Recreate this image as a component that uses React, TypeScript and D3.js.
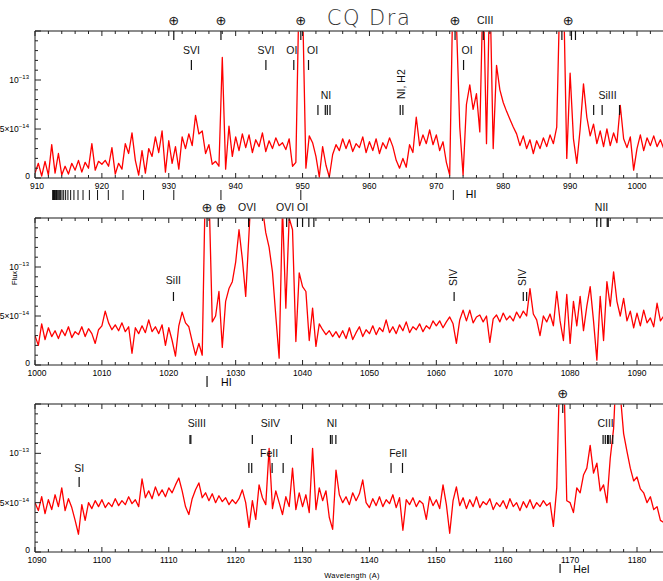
import * as d3 from "d3";

// flux samples, units of 1e-14 erg/s/cm2/A, every 0.5 A
const fluxStep = 0.5;

const flux1Start = 910;
const flux1 = [
  0.5, 1.5, 0.2, 1.7, 0.3, 3.4, 0.5, 2.5, 0.3, 1.2, 0.4, 1.5, 0.8, 1.8, 0.6, 1.6, 1.0, 3.5, 0.8, 1.7,
  1.4, 1.8, 1.2, 3.1, 0.4, 1.5, 0.9, 3.5, 2.5, 4.6, 1.8, 0.3, 2.8, 0.5, 3.0, 2.2, 4.2, 2.6, 4.8, 0.6,
  3.8, 1.5, 3.2, 0.9, 4.2, 3.0, 4.5, 3.3, 6.4, 4.5, 4.8, 2.5, 3.4, 1.4, 1.7, 1.2, 12.3, 0.9, 5.3, 2.2,
  4.2, 2.8, 4.5, 3.1, 4.4, 2.6, 3.9, 3.2, 4.6, 2.7, 3.8, 3.0, 4.1, 3.3, 3.6, 2.9, 4.0, 1.2, 1.6, 20,
  18, 1.0, 4.3, 3.6, 2.2, 0.1, 3.2, 1.3, 0.1, 2.4, 3.4, 2.8, 4.0, 3.0, 3.9, 2.7, 3.5, 3.1, 4.2, 2.6,
  3.7, 2.8, 4.0, 2.5, 3.6, 3.0, 4.1, 3.2, 1.8, 1.0, 2.0, 1.1, 3.4, 2.6, 6.2, 3.3, 4.4, 3.5, 4.9, 3.4,
  4.4, 2.8, 3.7, 1.6, 0.3, 20, 16, 5.2, 0.3, 7.5, 9.5, 7.0, 8.6, 4.7, 20, 3.5, 20, 3.0, 11.5, 9.0,
  7.7, 6.8, 6.0, 5.2, 4.5, 3.3, 4.3, 3.0, 3.9, 2.5, 3.8, 3.0, 4.1, 3.2, 4.4, 3.5, 5.2, 20, 20, 2.0,
  10.7, 4.0, 1.5, 5.0, 9.6, 6.2, 4.3, 5.5, 3.5, 4.8, 3.2, 5.0, 3.3, 4.6, 3.6, 7.4, 4.0, 3.1, 4.2, 0.8,
  3.0, 4.4, 2.8, 4.1, 3.3, 4.3, 3.2, 3.9, 3.0,
];

const flux2Start = 1000;
const flux2 = [
  3.0, 2.0, 4.2, 2.6, 3.8, 2.9, 3.5, 2.7, 3.6, 3.0, 3.9, 2.8, 3.4, 3.1, 3.9, 2.9, 3.7, 3.2, 2.2, 3.6,
  4.0, 5.5, 4.3, 3.6, 4.1, 3.5, 4.3, 3.4, 3.9, 1.2, 3.8, 3.2, 4.0, 3.3, 4.6, 3.4, 3.9, 3.2, 4.1, 2.0,
  3.8, 2.5, 0.9, 4.0, 5.4, 4.3, 3.9, 2.4, 1.0, 2.2, 1.0, 20, 18, 4.4, 5.0, 7.5, 1.8, 6.5, 7.8, 8.5,
  10.5, 13.8, 10.8, 7.0, 13.5, 20, 20, 20, 16, 13.5, 12, 9.5, 5.0, 0.7, 16, 5.8, 15, 13.8, 2.4, 9.4,
  8.0, 7.5, 2.5, 5.8, 1.9, 4.2, 3.6, 3.1, 3.5, 2.9, 3.4, 2.8, 3.5, 2.7, 3.8, 2.6, 3.3, 3.9, 2.9, 3.6,
  3.2, 4.0, 3.1, 3.8, 3.4, 4.6, 3.3, 3.9, 3.2, 4.1, 3.5, 4.4, 3.3, 3.9, 3.6, 4.2, 3.4, 4.0, 3.7, 4.5,
  4.0, 4.5, 3.8, 4.4, 4.9, 4.2, 2.2, 4.6, 5.6, 4.5, 5.6, 4.3, 4.9, 5.1, 4.4, 5.0, 2.3, 4.7, 5.1, 4.4,
  5.3, 4.6, 5.0, 4.5, 5.4, 4.8, 5.5, 5.0, 7.8, 5.2, 4.6, 3.0, 5.0, 4.4, 5.2, 4.0, 7.5, 4.5, 2.5, 7.2,
  2.2, 6.5, 4.0, 7.0, 3.5, 6.0, 8.0, 4.5, 0.5, 7.0, 2.5, 8.5, 6.0, 9.5, 6.5, 5.0, 6.8, 4.5, 5.5, 3.8,
  5.3, 4.0, 5.6, 4.3, 4.8, 3.9, 6.3, 4.5, 5.0,
];

const flux3Start = 1090;
const flux3 = [
  5.0, 4.2, 5.6, 3.9, 5.3, 4.3, 5.8, 4.6, 6.5, 4.2, 5.4, 4.5, 3.2, 1.8, 4.8, 3.2, 5.0, 4.4, 5.2, 4.6,
  5.3, 4.5, 5.0, 4.6, 5.4, 4.7, 5.2, 4.8, 5.6, 4.9, 5.3, 4.6, 7.4, 5.5, 6.2, 5.4, 6.6, 5.7, 6.3, 5.6,
  6.5, 6.0, 6.8, 7.5, 6.2, 4.6, 3.8, 5.4, 6.3, 7.0, 5.5, 6.0, 5.2, 5.9, 5.0, 5.7, 5.1, 5.5, 4.8, 5.3,
  4.9, 5.4, 6.3, 5.0, 2.5, 5.2, 3.3, 6.8, 5.5, 4.8, 10.5, 4.4, 6.2, 5.0, 3.8, 5.6, 4.6, 8.5, 4.3, 6.0,
  4.6, 5.8, 4.0, 10.5, 4.3, 6.5, 5.2, 6.2, 3.5, 2.3, 8.3, 5.8, 5.0, 5.6, 4.8, 6.0, 5.2, 5.9, 7.3, 5.0,
  4.5, 5.4, 4.7, 5.6, 4.6, 5.3, 4.9, 5.8, 4.5, 5.5, 2.2, 5.3, 4.8, 5.5, 4.6, 5.2, 4.9, 3.3, 5.6, 4.7,
  5.3, 4.4, 6.8, 4.8, 1.9, 5.2, 6.6, 4.7, 5.5, 4.4, 5.3, 4.6, 5.6, 4.5, 5.1, 4.8, 5.4, 4.3, 5.0, 4.6,
  5.2, 4.4, 5.4, 4.6, 5.0, 4.2, 5.1, 4.5, 5.3, 4.4, 5.0, 4.6, 5.2, 4.7, 5.0, 2.6, 6.5, 20, 20, 5.2,
  5.0, 4.0, 6.5, 6.0, 7.8, 8.5, 10.8, 8.0, 9.0, 6.2, 6.8, 5.0, 9.5, 12.5, 20, 16, 12.0, 10.2, 8.5, 7.2,
  7.6, 6.4, 6.0, 5.0, 5.6, 4.3, 4.6, 3.2, 3.0,
];

// line identifications
const lyman = [
  912.65, 912.71, 912.77, 912.84, 912.92, 913.0, 913.1, 913.21, 913.33, 913.48, 913.64, 913.83,
  914.04, 914.29, 914.58, 914.92, 915.33, 915.82, 916.43, 917.18, 918.13, 919.35, 920.96, 923.15,
  926.23, 930.75, 937.8, 949.74, 972.54,
];

const topTicks1 = [930.75, 937.8, 949.74, 972.8, 977.02, 988.77, 990.2, 990.8];
const topLabels1 = [
  { text: "⊕", lam: 930.75 }, { text: "⊕", lam: 937.8 }, { text: "⊕", lam: 949.74 },
  { text: "⊕", lam: 972.8 }, { text: "CIII", lam: 977.3 }, { text: "⊕", lam: 989.7 },
];
const ids1 = [
  { text: "SVI", lam: 933.38, ticks: [933.38], row: "upper" },
  { text: "SVI", lam: 944.52, ticks: [944.52], row: "upper" },
  { text: "OI", lam: 948.4, ticks: [948.69], row: "upper" },
  { text: "OI", lam: 951.5, ticks: [950.89], row: "upper" },
  { text: "NI", lam: 953.5, ticks: [952.3, 953.4, 953.7, 954.1], row: "lower" },
  { text: "NI, H2", lam: 964.8, ticks: [964.6, 965.0], row: "lower", rotate: true },
  { text: "OI", lam: 974.6, ticks: [974.07], row: "upper" },
  { text: "SiIII", lam: 995.6, ticks: [993.52, 994.79, 997.39], row: "lower" },
];

const topTicks2 = [1025.72, 1027.4, 1031.93, 1037.62, 1039.23, 1040.0, 1040.94, 1041.69, 1083.99, 1084.58, 1085.55, 1085.7];
const topLabels2 = [
  { text: "⊕", lam: 1025.72 }, { text: "⊕", lam: 1027.8 }, { text: "OVI", lam: 1031.7 },
  { text: "OVI", lam: 1037.4 }, { text: "OI", lam: 1040.0 }, { text: "NII", lam: 1084.7 },
];
const ids2 = [
  { text: "SiII", lam: 1020.7, ticks: [1020.7], row: "lower" },
  { text: "SIV", lam: 1062.6, ticks: [1062.66], row: "lower", rotate: true },
  { text: "SIV", lam: 1072.9, ticks: [1073.0, 1073.5], row: "lower", rotate: true },
];

const topTicks3 = [1168.9];
const topLabels3 = [{ text: "⊕", lam: 1168.9 }];
const ids3 = [
  { text: "SI", lam: 1096.6, ticks: [1096.6], row: "lower" },
  { text: "SiIII", lam: 1114.2, ticks: [1113.17, 1113.3], row: "upper" },
  { text: "SiIV", lam: 1125.2, ticks: [1122.49, 1128.33], row: "upper" },
  { text: "NI", lam: 1134.4, ticks: [1134.17, 1134.42, 1134.98], row: "upper" },
  { text: "CIII", lam: 1175.3, ticks: [1174.93, 1175.26, 1175.59, 1175.71, 1175.99, 1176.37], row: "upper" },
  { text: "FeII", lam: 1125.0, ticks: [1121.97, 1122.4, 1125.45, 1127.1], row: "middle" },
  { text: "FeII", lam: 1144.3, ticks: [1143.23, 1144.94], row: "middle" },
];

const FONT = "'Liberation Sans', Arial, sans-serif";
const LABEL_FONT = "'Liberation Sans Narrow', 'Liberation Sans', Arial, sans-serif";
const LEFT = 35;
const RIGHT = 663;
const PX_PER_90A = 602;

const rowsByPanel = [
  { upper: [19, 29, 39], lower: [64, 74, 84] },
  { lower: [62, 74, 83] },
  { upper: [19, 31, 40], middle: [49, 59, 69], lower: [64, 73, 83] },
];

const panels = [
  { start: flux1Start, flux: flux1, top: 31, bottom: 178, topTicks: topTicks1, topLabels: topLabels1, ids: ids1 },
  { start: flux2Start, flux: flux2, top: 218, bottom: 365, topTicks: topTicks2, topLabels: topLabels2, ids: ids2 },
  { start: flux3Start, flux: flux3, top: 404, bottom: 552, topTicks: topTicks3, topLabels: topLabels3, ids: ids3 },
];

function Panel({ p, idx }: { p: any; idx: number }) {
  const lamMax = p.start + ((RIGHT - LEFT) * 90) / PX_PER_90A;
  const x = d3.scaleLinear().domain([p.start, p.start + 90]).range([LEFT, LEFT + PX_PER_90A]);
  const y = d3.scaleLinear().domain([0, 1.5e-13]).range([p.bottom, p.top]);
  const pts: [number, number][] = p.flux.map((v: number, i: number) => [p.start + i * fluxStep, v * 1e-14]);
  const line = d3.line<[number, number]>().x((d) => x(d[0])).y((d) => y(d[1]));
  const xTicks = d3.range(p.start, lamMax, 2);
  const yTicks = d3.range(0, 16).map((k) => k * 1e-14);
  const rows: any = rowsByPanel[idx];
  const clipId = `clip${idx}`;

  return (
    <g>
      <defs>
        <clipPath id={clipId}>
          <rect x={LEFT} y={p.top} width={RIGHT - LEFT} height={p.bottom - p.top} />
        </clipPath>
      </defs>
      <path d={line(pts) || ""} fill="none" stroke="#ff0000" strokeWidth={1.3} strokeLinejoin="round" clipPath={`url(#${clipId})`} />
      {/* frame */}
      <line x1={LEFT} x2={RIGHT} y1={p.top} y2={p.top} stroke="#666" strokeWidth={1.6} />
      <line x1={LEFT} x2={RIGHT} y1={p.bottom} y2={p.bottom} stroke="#222" strokeWidth={1} />
      <line x1={LEFT} x2={LEFT} y1={p.top} y2={p.bottom} stroke="#222" strokeWidth={1} />
      {xTicks.map((t: number) => {
        const major = Math.abs(t % 10) < 1e-6;
        const len = major ? 5 : 3;
        return (
          <g key={t}>
            <line x1={x(t)} x2={x(t)} y1={p.bottom} y2={p.bottom - len} stroke="#222" />
            <line x1={x(t)} x2={x(t)} y1={p.top} y2={p.top + len} stroke="#222" />
            {major && (
              <text x={x(t) + (t === p.start ? 2 : 0)} y={p.bottom + 10.5} fontSize={8.5} textAnchor="middle" fontFamily={FONT}>
                {t}
              </text>
            )}
          </g>
        );
      })}
      {yTicks.map((t: number, k: number) => (
        <line key={k} x1={LEFT} x2={LEFT + (k % 5 === 0 ? 6 : 3)} y1={y(t)} y2={y(t)} stroke="#222" />
      ))}
      <text x={30} y={y(0) + 1} fontSize={8.5} textAnchor="end" fontFamily={FONT}>0</text>
      <text x={29} y={y(5e-14) + 3} fontSize={8.5} textAnchor="end" fontFamily={FONT}>
        5×10<tspan fontSize={6} dy={-4}>−14</tspan>
      </text>
      <text x={29} y={y(1e-13) + 3} fontSize={8.5} textAnchor="end" fontFamily={FONT}>
        10<tspan fontSize={6} dy={-4}>−13</tspan>
      </text>
      {/* ticks hanging from the top frame */}
      {p.topTicks.map((t: number, i: number) => (
        <line key={i} x1={x(t)} x2={x(t)} y1={p.top} y2={p.top + 9} stroke="#111" strokeWidth={1.2} />
      ))}
      {p.topLabels.map((l: any, i: number) => (
        <text
          key={i}
          x={x(l.lam)}
          y={p.top - (l.text === "⊕" ? 6 : 7)}
          fontSize={l.text === "⊕" ? 13 : 10.5}
          textAnchor="middle"
          fontFamily={l.text === "⊕" ? "'DejaVu Sans', sans-serif" : LABEL_FONT}
          fill="#111"
        >
          {l.text}
        </text>
      ))}
      {p.ids.map((l: any, i: number) => {
        const [ty, t0, t1] = rows[l.row];
        return (
          <g key={i}>
            {l.ticks.map((t: number, j: number) => (
              <line key={j} x1={x(t)} x2={x(t)} y1={p.top + t0} y2={p.top + t1} stroke="#111" strokeWidth={1.2} />
            ))}
            {l.rotate ? (
              <text
                transform={`translate(${x(l.lam) + 3.5},${p.top + t0 - 6}) rotate(-90)`}
                fontSize={10.5}
                fontFamily={LABEL_FONT}
                fill="#111"
              >
                {l.text}
              </text>
            ) : (
              <text
                x={x(l.lam)}
                y={p.top + ty + 4}
                fontSize={10.5}
                textAnchor="middle"
                fontFamily={LABEL_FONT}
                fill="#111"
              >
                {l.text}
              </text>
            )}
          </g>
        );
      })}
    </g>
  );
}

export default function App() {
  const p1 = panels[0];
  const x1 = d3.scaleLinear().domain([910, 1000]).range([LEFT, LEFT + PX_PER_90A]);
  const x2 = d3.scaleLinear().domain([1000, 1090]).range([LEFT, LEFT + PX_PER_90A]);
  const x3 = d3.scaleLinear().domain([1090, 1180]).range([LEFT, LEFT + PX_PER_90A]);
  return (
    <svg width={663} height={581} style={{ position: "absolute", left: 0, top: 0, background: "#fff" }}>
      <rect width={663} height={581} fill="#fff" />
      <text
        x={369}
        y={25}
        fontSize={21}
        textAnchor="middle"
        fontFamily="'DejaVu Sans', sans-serif"
        fontWeight={200}
        letterSpacing={1.5}
        fill="#333"
      >
        CQ Dra
      </text>
      {panels.map((p, i) => (
        <Panel key={i} p={p} idx={i} />
      ))}
      {/* Lyman series under the first panel */}
      {lyman.map((t, i) => (
        <line key={i} x1={x1(t)} x2={x1(t)} y1={p1.bottom + 12} y2={p1.bottom + 22} stroke="#111" strokeWidth={1} />
      ))}
      <text x={x1(975.2)} y={p1.bottom + 20} fontSize={10.5} fontFamily={LABEL_FONT} textAnchor="middle">HI</text>
      <line x1={x2(1025.72)} x2={x2(1025.72)} y1={panels[1].bottom + 11} y2={panels[1].bottom + 22} stroke="#111" strokeWidth={1.2} />
      <text x={x2(1028.6)} y={panels[1].bottom + 21} fontSize={10.5} fontFamily={LABEL_FONT} textAnchor="middle">HI</text>
      <line x1={x3(1168.5)} x2={x3(1168.5)} y1={panels[2].bottom + 12} y2={panels[2].bottom + 21} stroke="#111" strokeWidth={1.2} />
      <text x={x3(1171.7)} y={panels[2].bottom + 21} fontSize={10.5} fontFamily={LABEL_FONT} textAnchor="middle">HeI</text>
      <text transform="translate(17,278) rotate(-90)" fontSize={7.5} fontFamily={FONT} textAnchor="middle">Flux</text>
      <text x={352} y={578} fontSize={7.5} fontFamily={FONT} textAnchor="middle" letterSpacing={0.3}>Wavelength  (A)</text>
    </svg>
  );
}
